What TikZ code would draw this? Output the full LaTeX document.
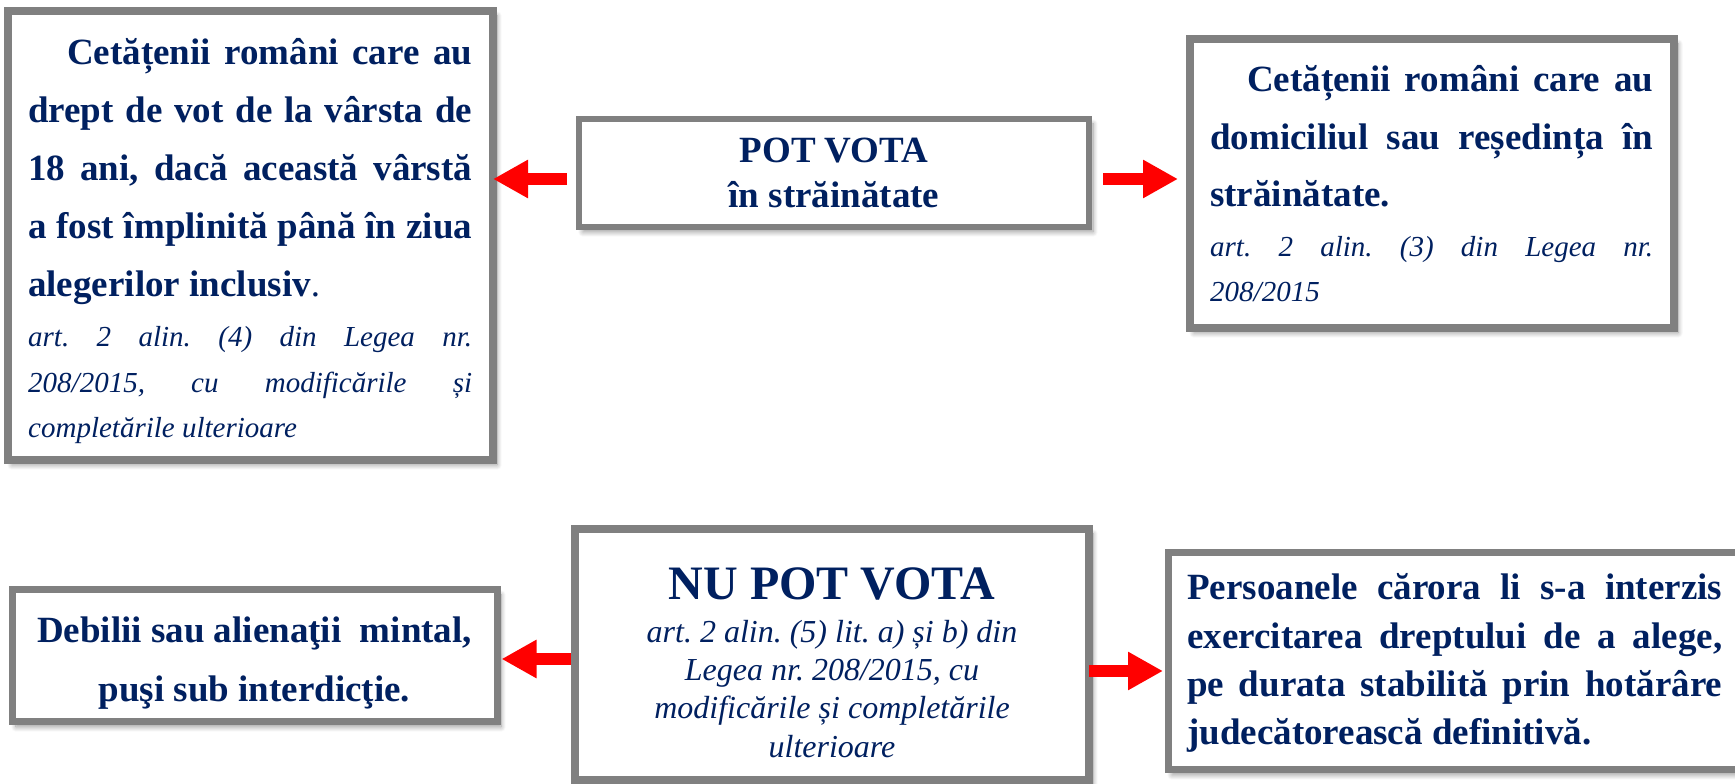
\documentclass[tikz,border=0pt]{standalone}
\usepackage{fontspec}
\setmainfont{Liberation Serif}
\usetikzlibrary{arrows.meta,shadows.blur}
\definecolor{navy}{RGB}{0,32,96}
\definecolor{boxgray}{RGB}{128,128,128}
\definecolor{arrowred}{RGB}{255,0,0}
\tikzset{
  panel/.style={draw=boxgray, fill=white, inner sep=0pt, rectangle,
    blur shadow={shadow xshift=4pt, shadow yshift=-5pt, shadow blur radius=5pt, shadow blur steps=10, shadow opacity=40}},
  txt/.style={inner sep=0pt, text=navy},
  redarrow/.style={draw=arrowred, line width=12pt, -{Triangle[length=35pt,width=36pt]}}
}
\newcommand{\natspaces}{\spaceskip=0pt\xspaceskip=0pt\frenchspacing}
\newcommand{\fixspaces}{\spaceskip=.25em\relax\xspaceskip=.25em\relax\frenchspacing}
\begin{document}
\begin{tikzpicture}[x=1pt,y=1pt]
\useasboundingbox (0,0) rectangle (1735,784);
\clip (0,0) rectangle (1735,784);
% boxes
\node[panel, line width=8pt, minimum width=485pt, minimum height=449pt] (L1) at (250.5,548.5) {};
\node[panel, line width=6pt, minimum width=510pt, minimum height=108pt] (P) at (834,611) {};
\node[panel, line width=8pt, minimum width=484pt, minimum height=289pt] (R1) at (1432,600.5) {};
\node[panel, line width=7pt, minimum width=485pt, minimum height=132pt] (L2) at (254.5,128) {};
\node[panel, line width=8pt, minimum width=514pt, minimum height=251pt] (N) at (832,129.5) {};
\node[panel, line width=7pt, minimum width=577pt, minimum height=217pt] (R2) at (1456.5,122.5) {};
% texts
\node[txt, text width=444pt, align=justify, anchor=base west,
  font=\fontsize{37}{58}\selectfont\bfseries] (tL1) at (28,719) {%
\natspaces\tolerance=9999\hyphenpenalty=10000
\hspace*{39pt}Cetățenii români care au\linebreak
drept de vot de la vârsta de\linebreak
18 ani, dacă această vârstă\linebreak
a fost împlinită până în ziua\linebreak
alegerilor inclusiv{\mdseries .}\par
\vspace{4.5pt}\fontsize{29}{45.5}\selectfont\mdseries\itshape\natspaces
art. 2 alin. (4) din Legea nr.\linebreak
208/2015, cu modificările și\linebreak
completările ulterioare\par};
\node[txt, text width=400pt, align=center, anchor=base,
  font=\fontsize{37}{45}\selectfont\bfseries] (tP) at (834,621) {%
\fixspaces POT VOTA\\ în străinătate\par};
\node[txt, text width=443pt, align=justify, anchor=base west,
  font=\fontsize{37}{57.5}\selectfont\bfseries] (tR1) at (1210,692) {%
\natspaces\tolerance=9999\hyphenpenalty=10000
\hspace*{37pt}Cetățenii români care au\linebreak
domiciliul sau reședința în\linebreak
străinătate.\par
\vspace{5pt}\fontsize{29}{45}\selectfont\mdseries\itshape\natspaces
art. 2 alin. (3) din Legea nr.\linebreak
208/2015\par};
\node[txt, text width=470pt, align=center, anchor=base,
  font=\fontsize{37}{59}\selectfont\bfseries] (tL2) at (254.5,141) {%
\fixspaces Debilii sau alienaţii\ \ mintal,\\ puşi sub interdicţie.\par};
\node[txt, text width=470pt, align=center, anchor=base,
  font=\fontsize{48}{48}\selectfont\bfseries] (tN) at (832,184) {%
\fixspaces NU POT VOTA\par
\vspace{4pt}\fontsize{32}{38.3}\selectfont\mdseries\itshape\fixspaces
art. 2 alin. (5) lit. a) și b) din\\
Legea nr. 208/2015, cu\\
modificările și completările\\
ulterioare\par};
\node[txt, text width=535pt, align=justify, anchor=base west,
  font=\fontsize{37}{48.3}\selectfont\bfseries] (tR2) at (1187,184) {%
\natspaces\tolerance=9999\hyphenpenalty=10000
Persoanele cărora li s-a interzis\linebreak
exercitarea dreptului de a alege,\linebreak
pe durata stabilită prin hotărâre\linebreak
judecătorească definitivă.\par};
% arrows
\draw[redarrow, shorten <=9pt, shorten >=-4pt] ([yshift=-6pt]P.west) -- ([yshift=-6pt]P.west -| L1.east);
\draw[redarrow, shorten <=11pt, shorten >=8pt] ([yshift=-6pt]P.east) -- ([yshift=-6pt]P.east -| R1.west);
\draw[redarrow, shorten >=1pt] ([yshift=-4.5pt]N.west) -- ([yshift=-4.5pt]N.west -| L2.east);
\draw[redarrow, shorten <=-4pt, shorten >=1.5pt] ([yshift=-16.5pt]N.east) -- ([yshift=-16.5pt]N.east -| R2.west);
\end{tikzpicture}
\end{document}
